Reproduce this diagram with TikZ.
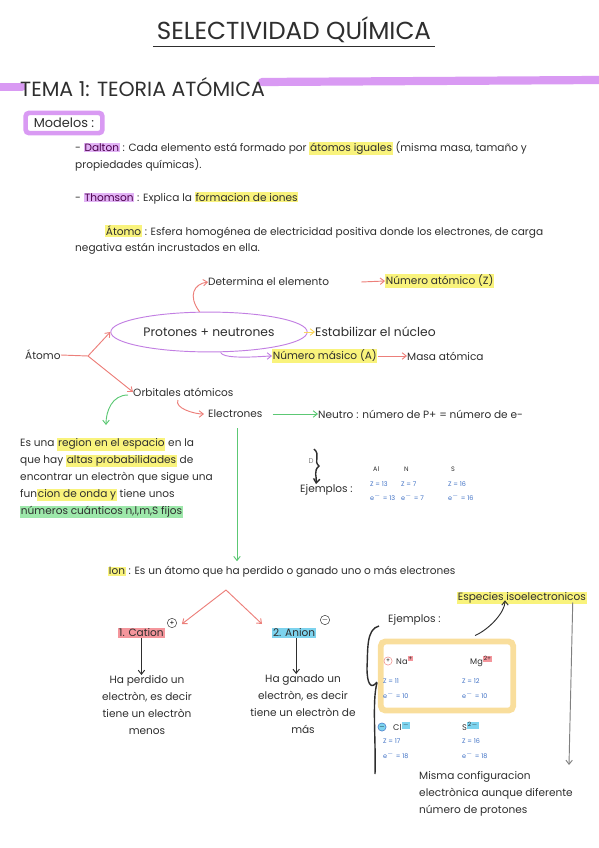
\documentclass[tikz,border=0pt]{standalone}
\usepackage{fontspec}
\setmainfont{Poppins}
\usetikzlibrary{calc, arrows.meta, positioning, shapes.geometric}

\definecolor{lila}{HTML}{D99AF3}
\definecolor{lilaOsc}{HTML}{C27FE2}
\definecolor{amarillo}{HTML}{F9F37C}
\definecolor{verde}{HTML}{5CC874}
\definecolor{verdeHl}{HTML}{9DE8AA}
\definecolor{rojo}{HTML}{EC7F7A}
\definecolor{rosa}{HTML}{F4969C}
\definecolor{celeste}{HTML}{7DD3EE}
\definecolor{naranja}{HTML}{F9DE9C}
\definecolor{azul}{HTML}{3D6FC4}
\definecolor{tinta}{HTML}{2E2E2E}

% highlighter marks
\newcommand{\hly}[1]{{\setlength{\fboxsep}{0.6pt}\colorbox{amarillo}{#1}}}
\newcommand{\hlv}[1]{{\setlength{\fboxsep}{0.6pt}\colorbox{verdeHl}{#1}}}
\newcommand{\hlp}[1]{{\setlength{\fboxsep}{0.6pt}\colorbox{lila!75}{\textcolor{violet!60!black}{#1}}}}
\newcommand{\hlr}[1]{{\setlength{\fboxsep}{0.8pt}\colorbox{rosa}{#1}}}
\newcommand{\hlc}[1]{{\setlength{\fboxsep}{0.8pt}\colorbox{celeste}{#1}}}

\tikzset{
  texto/.style={font=\fontsize{9}{14.5}\selectfont, text=tinta, anchor=west, inner sep=0pt},
  dato/.style={font=\fontsize{5.5}{6}\selectfont, text=azul, anchor=west, inner sep=0pt},
  signo/.style={circle, draw=tinta, inner sep=0pt, minimum size=8pt, font=\fontsize{6}{6}\selectfont},
  punta/.style={-{Straight Barb[length=3.5pt, width=5.5pt]}},
  flecharoja/.style={punta, rojo, thick},
  flechaverde/.style={punta, verde, thick},
  flechalila/.style={punta, lilaOsc, thick},
  flechaamarilla/.style={punta, amarillo!75!orange, thick},
  flechanegra/.style={punta, tinta, thick}
}

\begin{document}
\begin{tikzpicture}[x=0.03cm, y=-0.03cm]
    \useasboundingbox (0,0) rectangle (599,848);

    % Title
    \node[font=\fontsize{21}{24}\selectfont, text=tinta] (titulo) at (294,30) {SELECTIVIDAD QUÍMICA};
    \draw[thick, tinta] ($(titulo.south west)+(0,-1)$) -- ($(titulo.south east)+(0,-1)$);

    % Purple marker bar with the chapter heading
    \draw[lila, line width=7pt, line cap=round] (0,87) -- (22,87);
    \draw[lila, line width=7pt, line cap=round] (262,82) -- (599,80);
    \node[texto, font=\fontsize{17.5}{20}\selectfont] (tema) at (20,87) {TEMA 1: TEORIA ATÓMICA};

    \node[draw=lila, line width=4pt, rounded corners=3pt, fill=white, inner xsep=7pt, inner ysep=4.5pt,
          font=\fontsize{11}{13}\selectfont, text=tinta] (modelos) at (64,123) {Modelos :};

    % Models
    \node[texto] (dalton) at (75,148) {- \hlp{Dalton} : Cada elemento está formado por \hly{átomos iguales} (misma masa, tamaño y};
    \node[texto] (dalton2) at (75,165) {propiedades químicas).};
    \node[texto] (thomson) at (75,198) {- \hlp{Thomson} : Explica la \hly{formacion de iones}};
    \node[texto] (atomo) at (105,232) {\hly{Átomo} : Esfera homogénea de electricidad positiva donde los electrones, de carga};
    \node[texto] (atomo2) at (75,249) {negativa están incrustados en ella.};

    % Atom map
    \node[texto] (atomoN) at (25,355) {Átomo};
    \node[ellipse, draw=lilaOsc, thick, minimum width=155pt, minimum height=34pt,
          font=\fontsize{10.5}{12}\selectfont, text=tinta] (pn) at (209,332) {Protones + neutrones};
    \coordinate (rama) at (88,356);
    \node[texto] (det) at (208,282) {Determina el elemento};
    \node[texto] (zat) at (385,281) {\hly{Número atómico (Z)}};
    \node[texto, font=\fontsize{10.5}{12}\selectfont] (estab) at (315,332) {Estabilizar el núcleo};
    \node[texto] (masico) at (272,356) {\hly{Número másico (A)}};
    \node[texto] (masa) at (407,356) {Masa atómica};
    \node[texto] (orb) at (133,392) {Orbitales atómicos};
    \node[texto] (elec) at (208,414) {Electrones};
    \node[texto] (neutro) at (318,414) {Neutro : número de P+ = número de e-};

    \draw[rojo, thick] (atomoN.east) -- (rama);
    \draw[flecharoja] (rama) -- (pn.west);
    \draw[flecharoja] (rama) -- (orb.west);
    \draw[flecharoja] (pn.115) .. controls +(-12,-16) and +(-14,2) .. (det.west);
    \draw[flecharoja] ($(det.east)+(32,0)$) -- (zat.west);
    \draw[flechaamarilla] ($(pn.east)+(-4,0)$) -- (estab.west);
    \draw[flechalila] (pn.300) .. controls +(2,8) and +(-6,0) .. (masico.west);
    \draw[flecharoja] (masico.east) -- (masa.west);
    \draw[flecharoja] ($(orb.west)+(45,8)$) .. controls +(-4,8) and +(-10,0) .. ($(elec.west)+(-4,0)$);
    \draw[flechaverde] ($(elec.east)+(10,0)$) -- (neutro.west);

    % Orbital definition
    \node[texto, align=left, anchor=north west] (region) at (20,438)
        {Es una \hly{region en el espacio} en la\\
         que hay \hly{altas probabilidades} de\\
         encontrar un electròn que sigue una\\
         fun\hly{cion de onda y} tiene unos\\
         \hlv{números cuánticos n,l,m,S fijos}};
    \coordinate (verdeFin) at (106,425);
    \draw[flechaverde] ($(orb.west)+(-5,3)$) .. controls +(-16,0) and +(0,-14) .. (verdeFin);
    \coordinate (bajada) at (237,428);

    % Neutral atom examples
    \node[texto] (ej1) at (300,490) {Ejemplos :};
    \node[font=\fontsize{6}{6}\selectfont, text=gray, inner sep=0pt] (dd) at (311,461) {D};
    \draw[punta, tinta, very thick] (314,449) .. controls (321,455) and (313,461) .. (319,466)
        .. controls (313,471) and (317,477) .. (316,484);
    \foreach \x/\el/\z/\e [count=\i] in {370/Al/13/13, 401/N/7/7, 448/S/16/16} {
        \node[dato, text=tinta] (el\i) at (\x+3,469) {\el};
        \node[dato] (z\i) at (\x,484) {Z = \z};
        \node[dato] (e\i) at (\x,497) {e$^-$ = \e};
    }

    % Ions
    \node[texto] (ion) at (108,572) {\hly{Ion} : Es un átomo que ha perdido o ganado uno o más electrones};
    \draw[flechaverde] (bajada) -- ($(bajada |- ion.north)+(0,-5)$);
    \coordinate (pico) at (226,590);
    \node[texto] (cation) at (118,633) {\hlr{1. Cation}};
    \node[texto] (anion) at (272,633) {\hlc{2. Anion}};
    \node[signo] (mas) at (172,623) {+};
    \node[signo] (menos) at (325,620) {$-$};
    \draw[flecharoja] (pico) -- ($(cation.east)+(17,-9)$);
    \draw[flecharoja] (pico) -- ($(anion.west)+(-10,-9)$);

    \node[texto, align=center, anchor=north] (perdido) at (147,675)
        {Ha perdido un\\ electròn, es decir\\ tiene un electròn\\ menos};
    \node[texto, align=center, anchor=north] (ganado) at (303,674)
        {Ha ganado un\\ electròn, es decir\\ tiene un electròn de\\ más};
    \draw[flechanegra] (cation.south) -- (cation.south |- perdido.north);
    \draw[flechanegra] ($(anion.south)+(2,0)$) -- ($(anion.south |- ganado.north)+(2,0)$);

    % Isoelectronic species
    \node[texto] (ej2) at (388,620) {Ejemplos :};
    \draw[tinta, very thick] (379,626) .. controls (366,629) and (368,650) .. (367,668)
        .. controls (367,684) and (371,690) .. (377,682);
    \draw[tinta, very thick] (377,683) .. controls (372,700) and (376,740) .. (375,774);
    \node[draw=naranja, line width=5pt, rounded corners=4pt, minimum width=113pt, minimum height=59pt] (caja) at (447,676) {};
    \node[texto] (iso) at (457,598) {\hly{Especies isoelectronicos}};
    \draw[flechanegra] ($(caja.north)+(28,-3)$) .. controls +(14,-6) and +(0,12) .. ($(iso.south west)+(48,-4)$);
    \draw[punta, gray, thick] ($(iso.south east)+(-14,-2)$) -- (569,765);

    \node[signo, draw=rojo, minimum size=7pt, font=\fontsize{5}{5}\selectfont] (s1) at (388,661) {+};
    \node[texto, font=\fontsize{7}{8}\selectfont] (na) at (396,660) {Na\textsuperscript{\hlr{+}}};
    \node[texto, font=\fontsize{7}{8}\selectfont] (mg) at (470,661) {Mg\textsuperscript{\hlr{2+}}};
    \node[signo, draw=azul, fill=celeste, minimum size=7pt, font=\fontsize{5}{5}\selectfont] (s2) at (382,727) {$-$};
    \node[texto, font=\fontsize{7}{8}\selectfont] (cl) at (393,726) {Cl\textsuperscript{\hlc{$-$}}};
    \node[texto, font=\fontsize{7}{8}\selectfont] (s) at (462,726) {S\textsuperscript{\hlc{2$-$}}};
    \foreach \x/\y/\z/\e in {383/681/11/10, 462/681/12/10, 383/741/17/18, 462/741/16/18} {
        \node[dato] at (\x,\y) {Z = \z};
        \node[dato] at (\x,\y+14) {e$^-$ = \e};
    }

    \node[texto, align=left, anchor=north west] (misma) at (419,771)
        {Misma configuracion\\ electrònica aunque diferente\\ número de protones};
\end{tikzpicture}
\end{document}
